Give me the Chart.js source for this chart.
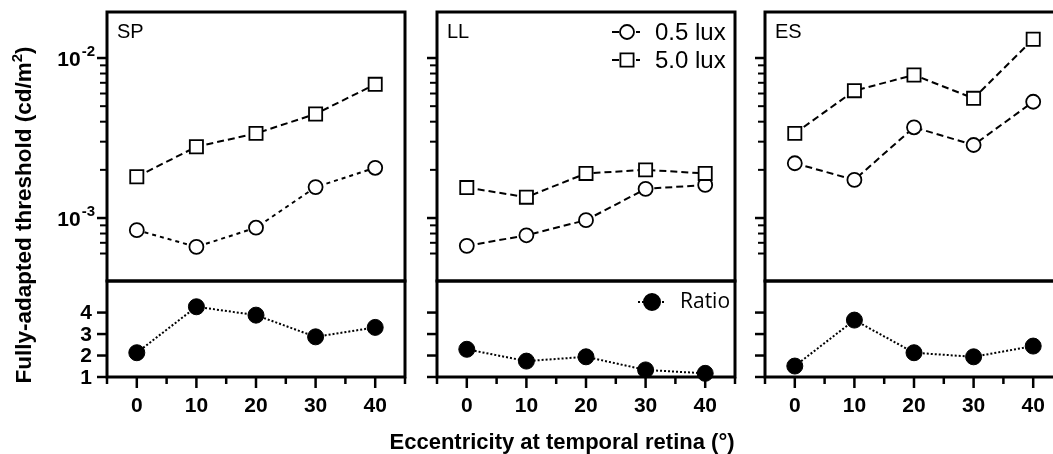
<!DOCTYPE html>
<html>
<head>
<meta charset="utf-8">
<script src="https://cdn.jsdelivr.net/npm/chart.js@4.4.1/dist/chart.umd.min.js"></script>
<style>
  html, body { margin: 0; padding: 0; background: #fff; overflow: hidden; }
  #wrap { position: relative; width: 1053px; height: 454px; overflow: hidden; background: #fff; }
  #wrap canvas { position: absolute; left: 0; top: 0; }
</style>
</head>
<body>
<div id="wrap">
  <canvas id="c0" width="1080" height="454"></canvas>
  <canvas id="c1" width="1080" height="454"></canvas>
  <canvas id="c2" width="1080" height="454"></canvas>
  <canvas id="c3" width="1080" height="454"></canvas>
  <canvas id="c4" width="1080" height="454"></canvas>
  <canvas id="c5" width="1080" height="454"></canvas>
</div>
<script>
// ---- data ----
const eccentricity = [0, 10, 20, 30, 40];
const subjects = ['SP', 'LL', 'ES'];

const sp05 = [8.4e-4, 6.6e-4, 8.7e-4, 1.56e-3, 2.06e-3];
const sp50 = [1.81e-3, 2.79e-3, 3.38e-3, 4.47e-3, 6.85e-3];
const ll05 = [6.7e-4, 7.8e-4, 9.7e-4, 1.52e-3, 1.61e-3];
const ll50 = [1.55e-3, 1.35e-3, 1.90e-3, 2.0e-3, 1.90e-3];
const es05 = [2.2e-3, 1.73e-3, 3.69e-3, 2.86e-3, 5.33e-3];
const es50 = [3.38e-3, 6.25e-3, 7.83e-3, 5.6e-3, 1.31e-2];

const spRatio = [2.13, 4.27, 3.88, 2.87, 3.31];
const llRatio = [2.29, 1.74, 1.94, 1.33, 1.17];
const esRatio = [1.51, 3.65, 2.13, 1.94, 2.44];

const xMajorTicks = [0, 10, 20, 30, 40];
const xMinorTicks = [-5, 5, 15, 25, 35, 45];
const logMajorTicks = [1e-3, 1e-2];
const logMajorLabels = [['10', '-3'], ['10', '-2']];
const logMinorTicks = [6e-4, 7e-4, 8e-4, 9e-4, 2e-3, 3e-3, 4e-3, 5e-3, 6e-3, 7e-3, 8e-3, 9e-3];
const ratioTicks = [1, 2, 3, 4];

const lux05 = [sp05, ll05, es05];
const lux50 = [sp50, ll50, es50];
const ratios = [spRatio, llRatio, esRatio];

// ---- layout ----
const W = 1080, H = 454;
const plotTop = 12, plotMid = 281, plotBottom = 377;
const panelLeft = [107, 437, 765];
const panelWidth = 298;
const FONT = '"Liberation Sans", Arial, Helvetica, sans-serif';
const dash05 = [[4, 4], [7, 4], [7, 4]];

function pts(values) {
  return eccentricity.map((x, k) => ({ x: x, y: values[k] }));
}

function line(ctx, x1, y1, x2, y2) {
  ctx.beginPath(); ctx.moveTo(x1, y1); ctx.lineTo(x2, y2); ctx.stroke();
}

const panelDecor = {
  id: 'panelDecor',
  afterDraw(chart, args, o) {
    const ctx = chart.ctx, a = chart.chartArea;
    const xs = chart.scales.x, ys = chart.scales.y;
    ctx.save();
    ctx.strokeStyle = '#000';
    ctx.fillStyle = '#000';
    ctx.lineWidth = 3;
    ctx.strokeRect(a.left, a.top, a.right - a.left, a.bottom - a.top);

    ctx.lineWidth = 2.5;
    if (o.part === 'top') {
      logMajorTicks.forEach(v => { const y = ys.getPixelForValue(v); line(ctx, a.left - 10, y, a.left, y); });
      ctx.lineWidth = 2;
      logMinorTicks.forEach(v => { const y = ys.getPixelForValue(v); line(ctx, a.left - 7, y, a.left, y); });
      if (o.labels) {
        logMajorTicks.forEach((v, i) => {
          const y = ys.getPixelForValue(v);
          ctx.textAlign = 'right';
          ctx.textBaseline = 'middle';
          ctx.font = 'bold 15px ' + FONT;
          const ew = ctx.measureText(logMajorLabels[i][1]).width;
          ctx.fillText(logMajorLabels[i][1], a.left - 12, y - 6);
          ctx.font = 'bold 21px ' + FONT;
          ctx.fillText(logMajorLabels[i][0], a.left - 13 - ew, y + 2);
        });
      }
      // panel name
      ctx.font = '20px ' + FONT;
      ctx.textAlign = 'left';
      ctx.textBaseline = 'alphabetic';
      ctx.fillText(o.name, a.left + 10, a.top + 26);

      if (o.legend) {
        const lx = 627;
        const rows = [[32, 'circle', 7, '0.5 lux'], [60, 'rect', 9.3, '5.0 lux']];
        rows.forEach(r => {
          ctx.lineWidth = 2;
          ctx.setLineDash([7, 5]);
          line(ctx, lx - 15, r[0], lx + 13, r[0]);
          ctx.setLineDash([]);
          ctx.fillStyle = '#fff';
          ctx.lineWidth = 1.8;
          Chart.helpers.drawPoint(ctx, { pointStyle: r[1], radius: r[2], rotation: 0, borderWidth: 1.8 }, lx, r[0]);
          ctx.fillStyle = '#000';
          ctx.font = '24px ' + FONT;
          ctx.textAlign = 'left';
          ctx.textBaseline = 'middle';
          ctx.fillText(r[3], 655, r[0] + 1);
        });
      }
    } else {
      ratioTicks.forEach(v => { const y = ys.getPixelForValue(v); line(ctx, a.left - 10, y, a.left, y); });
      xMajorTicks.forEach(v => { const x = xs.getPixelForValue(v); line(ctx, x, a.bottom, x, a.bottom + 11); });
      xMinorTicks.forEach(v => { const x = xs.getPixelForValue(v); line(ctx, x, a.bottom, x, a.bottom + 7); });

      ctx.font = 'bold 21px ' + FONT;
      ctx.textAlign = 'center';
      ctx.textBaseline = 'middle';
      xMajorTicks.forEach(v => ctx.fillText(String(v), xs.getPixelForValue(v), 406));
      if (o.labels) {
        ctx.textAlign = 'right';
        ratioTicks.forEach(v => ctx.fillText(String(v), a.left - 15, ys.getPixelForValue(v) + 1));
      }
      if (o.legend) {
        const lx = 652, ly = 302;
        ctx.lineWidth = 2;
        ctx.setLineDash([2, 2]);
        line(ctx, lx - 14, ly, lx + 14, ly);
        ctx.setLineDash([]);
        Chart.helpers.drawPoint(ctx, { pointStyle: 'circle', radius: 8, rotation: 0, borderWidth: 1 }, lx, ly);
        ctx.fillStyle = '#000';
        ctx.font = '21px "Open Sans", ' + FONT;
        ctx.textAlign = 'left';
        ctx.textBaseline = 'middle';
        ctx.fillText('Ratio', 680, ly);
      }
      if (o.titles) {
        ctx.font = 'bold 22px ' + FONT;
        ctx.textAlign = 'center';
        ctx.textBaseline = 'alphabetic';
        ctx.fillText('Eccentricity at temporal retina (°)', 562, 449);

        ctx.save();
        ctx.translate(31, 215);
        ctx.rotate(-Math.PI / 2);
        const main = 'Fully-adapted threshold (cd/m';
        ctx.font = 'bold 22.5px ' + FONT;
        const mw = ctx.measureText(main).width;
        const cw = ctx.measureText(')').width;
        ctx.font = 'bold 15px ' + FONT;
        const sw = ctx.measureText('2').width;
        const total = mw + sw + cw;
        ctx.textAlign = 'left';
        ctx.font = 'bold 22.5px ' + FONT;
        ctx.fillText(main, -total / 2, 0);
        ctx.fillText(')', -total / 2 + mw + sw, 0);
        ctx.font = 'bold 15px ' + FONT;
        ctx.fillText('2', -total / 2 + mw, -9);
        ctx.restore();
      }
    }
    ctx.restore();
  }
};

function makeChart(id, i, part) {
  const left = panelLeft[i];
  const right = left + panelWidth;
  const top = part === 'top' ? plotTop : plotMid;
  const bottom = part === 'top' ? plotMid : plotBottom;

  let datasets, yScale;
  if (part === 'top') {
    datasets = [
      {
        label: '5.0 lux', data: pts(lux50[i]),
        borderColor: '#000', borderWidth: 2, borderDash: [7, 4],
        pointStyle: 'rect', pointRadius: 9.3, pointBorderWidth: 1.8,
        pointBorderColor: '#000', pointBackgroundColor: '#fff', clip: false
      },
      {
        label: '0.5 lux', data: pts(lux05[i]),
        borderColor: '#000', borderWidth: 2, borderDash: dash05[i],
        pointStyle: 'circle', pointRadius: 7, pointBorderWidth: 1.8,
        pointBorderColor: '#000', pointBackgroundColor: '#fff', clip: false
      }
    ];
    yScale = { type: 'logarithmic', display: false, min: 4.04e-4, max: 0.01939 };
  } else {
    datasets = [
      {
        label: 'Ratio', data: pts(ratios[i]),
        borderColor: '#000', borderWidth: 2, borderDash: [2, 2],
        pointStyle: 'circle', pointRadius: 8, pointBorderWidth: 1,
        pointBorderColor: '#000', pointBackgroundColor: '#000', clip: false
      }
    ];
    yScale = { type: 'linear', display: false, min: 1, max: 5.47 };
  }

  return new Chart(document.getElementById(id), {
    type: 'line',
    data: { datasets: datasets },
    options: {
      responsive: false,
      animation: false,
      events: [],
      layout: { padding: { left: left, right: W - right, top: top, bottom: H - bottom } },
      scales: {
        x: { type: 'linear', display: false, min: -5, max: 45 },
        y: yScale
      },
      elements: { line: { tension: 0, fill: false } },
      plugins: {
        legend: { display: false },
        tooltip: { enabled: false },
        panelDecor: {
          part: part,
          name: subjects[i],
          labels: i === 0,
          legend: i === 1,
          titles: i === 0 && part === 'bottom'
        }
      }
    },
    plugins: [panelDecor]
  });
}

subjects.forEach((s, i) => {
  makeChart('c' + (i * 2), i, 'top');
  makeChart('c' + (i * 2 + 1), i, 'bottom');
});
</script>
</body>
</html>
